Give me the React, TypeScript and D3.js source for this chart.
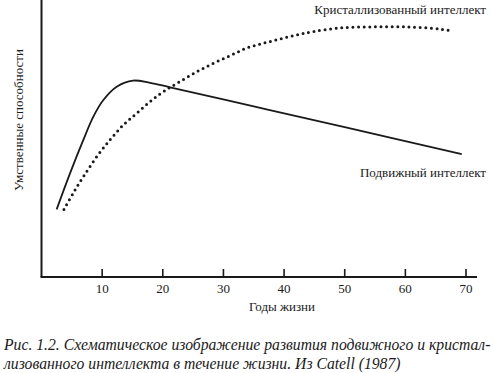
import React, { useEffect, useRef } from 'react';
import * as d3 from 'd3';

// Ages (years) and schematic ability level (0-100)
const fluidAges = [2.5, 4.7, 6.9, 8.55, 10.2, 12.4, 15.1, 17.9, 21.2, 35, 50, 69.3];
const fluidValues = [24.4, 37.4, 49.5, 57.9, 63.9, 68.7, 70.9, 70.1, 68.5, 61.6, 54.1, 44.4];

const crystAges = [3.7, 5.2, 6.9, 9.1, 11.3, 13.5, 15.7, 17.9, 20.1, 22.8, 25.6, 28.3, 31.1, 33.8, 36.6, 39.3, 42.1, 44.8, 49.2, 54.7, 60.3, 65.7, 67.9];
const crystValues = [24.4, 30.2, 36.2, 43.4, 49.5, 54.9, 59.1, 63.3, 66.9, 70.5, 74.1, 77.1, 79.9, 82.6, 84.4, 85.9, 87.4, 88.6, 89.9, 90.3, 90.3, 89.5, 88.8];

const xTicks = [10, 20, 30, 40, 50, 60, 70];

const W = 493;
const H = 373;

const App: React.FC = () => {
  const svgRef = useRef<SVGSVGElement>(null);

  useEffect(() => {
    if (!svgRef.current) return;
    const svg = d3.select(svgRef.current);
    svg.selectAll('*').remove();

    const left = 41.5;
    const bottom = 277;
    const ink = '#1a1a1a';
    const font = '"Liberation Serif", serif';

    const x = d3.scaleLinear().domain([0, 70]).range([left, left + 424.5]);
    const y = d3.scaleLinear().domain([0, 100]).range([bottom, 0]);

    const line = d3.line<[number, number]>()
      .x(d => x(d[0]))
      .y(d => y(d[1]))
      .curve(d3.curveCatmullRom.alpha(0.5));

    const fluid = fluidAges.map((a, i) => [a, fluidValues[i]] as [number, number]);
    const cryst = crystAges.map((a, i) => [a, crystValues[i]] as [number, number]);

    // Axes
    svg.append('line')
      .attr('x1', left).attr('x2', left)
      .attr('y1', 0).attr('y2', bottom)
      .attr('stroke', ink).attr('stroke-width', 2);
    svg.append('line')
      .attr('x1', left - 1).attr('x2', 477)
      .attr('y1', bottom).attr('y2', bottom)
      .attr('stroke', ink).attr('stroke-width', 2);

    const ticks = svg.append('g');
    ticks.selectAll('line')
      .data(xTicks)
      .enter()
      .append('line')
      .attr('x1', d => x(d)).attr('x2', d => x(d))
      .attr('y1', bottom - 8).attr('y2', bottom)
      .attr('stroke', ink).attr('stroke-width', 1.6);
    ticks.selectAll('text')
      .data(xTicks)
      .enter()
      .append('text')
      .attr('x', d => x(d))
      .attr('y', bottom + 16)
      .attr('text-anchor', 'middle')
      .attr('font-family', font)
      .attr('font-size', '13px')
      .attr('fill', ink)
      .text(d => String(d));

    // Curves
    svg.append('path')
      .attr('d', line(fluid) || '')
      .attr('fill', 'none')
      .attr('stroke', ink)
      .attr('stroke-width', 1.8);

    svg.append('path')
      .attr('d', line(cryst) || '')
      .attr('fill', 'none')
      .attr('stroke', ink)
      .attr('stroke-width', 3)
      .attr('stroke-linecap', 'round')
      .attr('stroke-dasharray', '0 5.6');

    // Curve labels
    svg.append('text')
      .attr('x', 486).attr('y', 14)
      .attr('text-anchor', 'end')
      .attr('font-family', font).attr('font-size', '13px').attr('fill', ink)
      .text('Кристаллизованный интеллект');
    svg.append('text')
      .attr('x', 486).attr('y', 177)
      .attr('text-anchor', 'end')
      .attr('font-family', font).attr('font-size', '13px').attr('fill', ink)
      .text('Подвижный интеллект');

    // Axis titles
    svg.append('text')
      .attr('x', 282).attr('y', 311)
      .attr('text-anchor', 'middle')
      .attr('font-family', font).attr('font-size', '13px').attr('fill', ink)
      .text('Годы жизни');
    svg.append('text')
      .attr('transform', 'translate(23,120) rotate(-90)')
      .attr('text-anchor', 'middle')
      .attr('font-family', font).attr('font-size', '13px').attr('fill', ink)
      .text('Умственные способности');

    // Caption
    const caption = svg.append('text')
      .attr('font-family', font)
      .attr('font-style', 'italic')
      .attr('font-size', '15.7px')
      .attr('fill', ink);
    caption.append('tspan')
      .attr('x', 4).attr('y', 350)
      .text('Рис. 1.2. Схематическое изображение развития подвижного и кристал-');
    caption.append('tspan')
      .attr('x', 4).attr('y', 369)
      .text('лизованного интеллекта в течение жизни. Из Catell (1987)');
  }, []);

  return (
    <svg
      ref={svgRef}
      width={W}
      height={H}
      style={{ position: 'absolute', left: 0, top: 0, background: '#fff' }}
    />
  );
};

export default App;
